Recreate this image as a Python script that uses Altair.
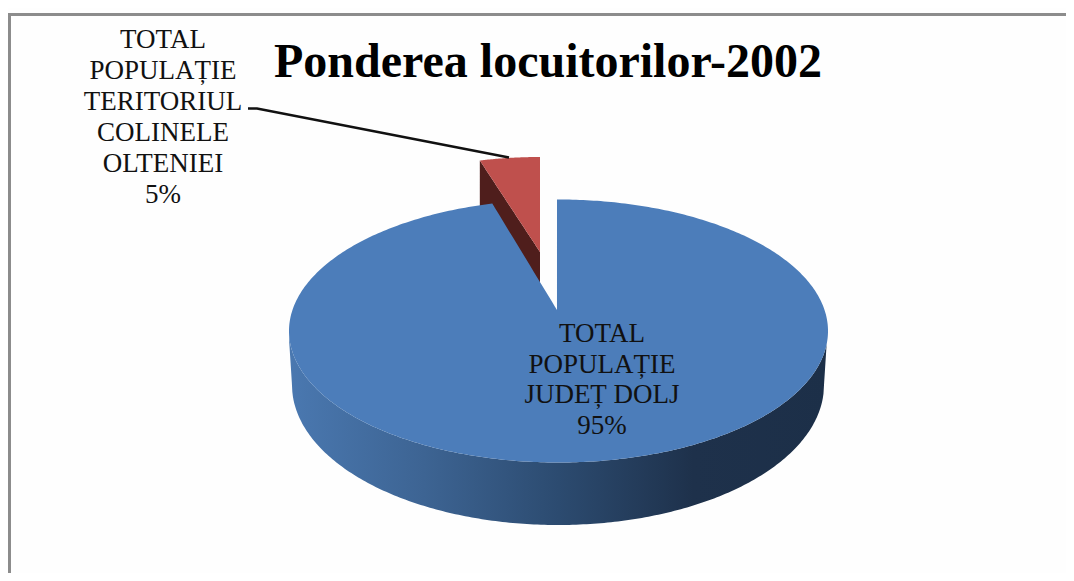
import math
import altair as alt
import pandas as pd

# ---- chart content ----
shares = [95, 5]
title_text = "Ponderea locuitorilor-2002"
blue_label = ["TOTAL", "POPULAȚIE", "JUDEȚ DOLJ", "95%"]
red_label = ["TOTAL", "POPULAȚIE", "TERITORIUL", "COLINELE", "OLTENIEI", "5%"]

W, H = 1058, 565
FONT = "Liberation Serif"
X = alt.X("x:Q", axis=None, scale=alt.Scale(domain=[8, 8 + W], nice=False, zero=False))
Y = alt.Y("y:Q", axis=None, scale=alt.Scale(domain=[8 + H, 8], nice=False, zero=False))

# tilted-pie geometry; the slice sweep comes from the share
sweep = 2 * math.pi * shares[1] / sum(shares) * 0.79   # foreshortened by perspective
CX, CY, A, B = 558.5, 331.0, 269.5, 131.5
BX, BY, BA, BB = 558.0, 385.0, 266.0, 140.0
APEX_X, APEX_Y = 557.0, 310.0
RX, RY, RA, RB = 540.0, 271.0, 245.0, 114.0
RED_APEX_Y = 252.0
DEPTH = 60.0
N = 240


def ell(cx, cy, a, b, x, sign):
    u = max(0.0, 1 - ((x - cx) / a) ** 2)
    return cy + sign * b * math.sqrt(u)


# blue top face
rim_x = CX - A * math.sin(sweep)
rim_y = ell(CX, CY, A, B, rim_x, -1)
xs = [CX + A * math.sin(-math.pi / 2 + math.pi * i / N) for i in range(N + 1)]
xs += [rim_x, APEX_X - 0.01, APEX_X]
xs = sorted(set(xs))
blue = []
for x in xs:
    if rim_x < x < APEX_X:
        y = rim_y + (APEX_Y - rim_y) * (x - rim_x) / (APEX_X - rim_x)
    else:
        y = ell(CX, CY, A, B, x, -1)
    blue.append({"x": x, "y": y, "y2": ell(CX, CY, A, B, x, 1)})

# blue side wall
side = []
for x in xs:
    top = ell(CX, CY, A, B, x, 1)
    if abs(x - BX) <= BA:
        low = ell(BX, BY, BA, BB, x, 1)
    else:
        edge = BX + math.copysign(BA, x - BX)
        low = CY + (BY - CY) * (1 - abs(x - edge) / (A - BA))
    side.append({"x": x, "y": top, "y2": max(top, low)})

# red slice
r_left = RX - RA * math.sin(sweep)
r_left_y = ell(RX, RY, RA, RB, r_left, -1)
rxs = [r_left + (RX - r_left) * i / 60 for i in range(61)]
red, dark = [], []
for x in rxs:
    edge = r_left_y + (RED_APEX_Y - r_left_y) * (x - r_left) / (RX - r_left)
    red.append({"x": x, "y": ell(RX, RY, RA, RB, x, -1), "y2": edge})
    dark.append({"x": x, "y": edge, "y2": edge + DEPTH})


def area(rows, color):
    return alt.Chart(pd.DataFrame(rows)).mark_area(color=color, interpolate="linear").encode(
        x=X, y=Y, y2=alt.Y2("y2:Q"))


side_grad = alt.Gradient(
    gradient="linear", x1=0, x2=1, y1=0, y2=0,
    stops=[
        alt.GradientStop(offset=0, color="#4a78b0"),
        alt.GradientStop(offset=0.25, color="#3d6493"),
        alt.GradientStop(offset=0.5, color="#2c4b70"),
        alt.GradientStop(offset=0.75, color="#1e314b"),
        alt.GradientStop(offset=1, color="#1c2f48"),
    ],
)

frame_top = alt.Chart(pd.DataFrame({"x": [8], "x2": [8 + W], "y": [14.5]})).mark_rule(
    color="#8c8c8c", strokeWidth=3).encode(x=X, x2="x2:Q", y=Y)
frame_left = alt.Chart(pd.DataFrame({"x": [9.5], "y": [13], "y2": [8 + H]})).mark_rule(
    color="#8c8c8c", strokeWidth=3).encode(x=X, y=Y, y2="y2:Q")

leader = alt.Chart(pd.DataFrame({"x": [248, 257, 509], "y": [108.5, 108.5, 157.5], "o": [0, 1, 2]})).mark_line(
    color="#111111", strokeWidth=2.5).encode(x=X, y=Y, order="o:Q")


def text_block(lines, cx, first_y, step):
    df = pd.DataFrame({"t": lines, "x": [cx] * len(lines),
                       "y": [first_y + step * i for i in range(len(lines))]})
    return alt.Chart(df).mark_text(font=FONT, fontSize=27, color="#111111",
                                   align="center", baseline="middle").encode(x=X, y=Y, text="t:N")


title = alt.Chart(pd.DataFrame({"t": [title_text], "x": [548], "y": [63]})).mark_text(
    font=FONT, fontSize=48, fontWeight="bold", color="#000000",
    align="center", baseline="middle").encode(x=X, y=Y, text="t:N")

chart = alt.layer(
    frame_top, frame_left,
    area(dark, "#4f1e1c"),
    area(red, "#bf504d"),
    area(side, side_grad),
    area(blue, "#4c7dba"),
    leader,
    title,
    text_block(red_label, 163, 39.5, 31),
    text_block(blue_label, 602, 334, 30.7),
).properties(width=W, height=H, padding=0, autosize="none", background="#fefefe").configure_view(stroke=None)

chart.save("out.html", embed_options={"renderer": "svg", "actions": False})
